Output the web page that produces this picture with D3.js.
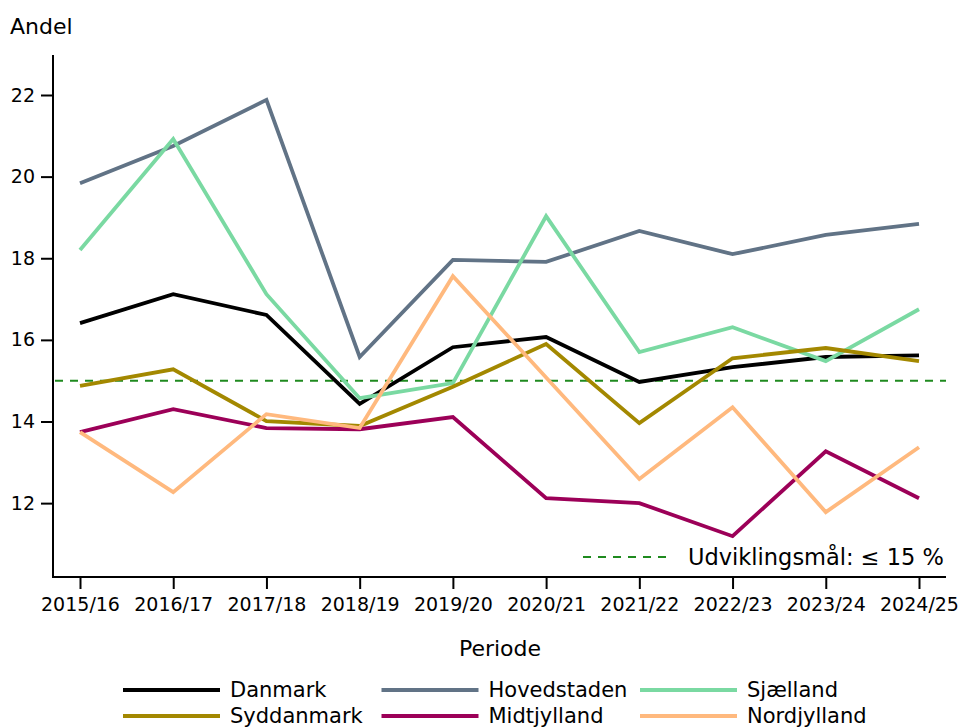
<!DOCTYPE html>
<html>
  <head>
    <meta charset="utf-8">
    <title>Andel per periode</title>
    <script src="https://d3js.org/d3.v7.min.js"></script>
    <style>
      body { margin: 0; background: #fff; }
      text { font-family: "DejaVu Sans", sans-serif; fill: #000; }
      .line { fill: none; stroke-width: 3.8px; stroke-linejoin: miter; }
    </style>
  </head>
  <body>
    <script>

      var width = 961;
      var height = 727;

      var periods = ["2015/16", "2016/17", "2017/18", "2018/19", "2019/20",
                     "2020/21", "2021/22", "2022/23", "2023/24", "2024/25"];
      var yTicks = [12, 14, 16, 18, 20, 22];
      var target = 15;

      var danmark     = [16.41, 17.12, 16.61, 14.43, 15.82, 16.07, 14.97, 15.33, 15.58, 15.62];
      var hovedstaden = [19.84, 20.75, 21.88, 15.58, 17.96, 17.91, 18.67, 18.10, 18.57, 18.84];
      var sjaelland   = [18.20, 20.92, 17.12, 14.57, 14.94, 19.03, 15.70, 16.31, 15.48, 16.75];
      var syddanmark  = [14.87, 15.28, 14.01, 13.89, 14.85, 15.90, 13.96, 15.55, 15.80, 15.48];
      var midtjylland = [13.74, 14.30, 13.84, 13.81, 14.11, 12.12, 12.00, 11.19, 13.27, 12.12];
      var nordjylland = [13.74, 12.27, 14.18, 13.84, 17.56, 15.08, 12.59, 14.35, 11.78, 13.37];

      var series = [
        { name: "Danmark",     values: danmark,     color: "#000000" },
        { name: "Hovedstaden", values: hovedstaden, color: "#617386" },
        { name: "Sjælland",    values: sjaelland,   color: "#7ad9a2" },
        { name: "Syddanmark",  values: syddanmark,  color: "#a38800" },
        { name: "Midtjylland", values: midtjylland, color: "#9c0058" },
        { name: "Nordjylland", values: nordjylland, color: "#ffb97e" }
      ];
      // legend is drawn in this order, 3 per row
      var legendOrder = ["Danmark", "Hovedstaden", "Sjælland", "Syddanmark", "Midtjylland", "Nordjylland"];

      var plot = { left: 53, right: 946, top: 55, bottom: 577 };

      var svg = d3.select("body").append("svg")
        .attr("width", width)
        .attr("height", height);

      var xScale = d3.scalePoint().domain(periods).range([80, 919]);
      var yScale = d3.scaleLinear().domain([10.19, 22.98]).range([plot.bottom, plot.top]);

      // target line
      svg.append("line")
        .attr("x1", plot.left + 2).attr("x2", plot.right)
        .attr("y1", yScale(target)).attr("y2", yScale(target))
        .attr("stroke", "#1f8a1f")
        .attr("stroke-width", 2)
        .attr("stroke-dasharray", "8,7");

      var line = d3.line()
        .x(function (d, i){ return xScale(periods[i]); })
        .y(function (d){ return yScale(d); });

      svg.selectAll("path.line").data(series).enter().append("path")
        .attr("class", "line")
        .attr("stroke", function (d){ return d.color; })
        .attr("d", function (d){ return line(d.values); });

      // axes
      var yAxis = svg.append("g")
        .attr("transform", "translate(" + plot.left + ",0)")
        .call(d3.axisLeft(yScale).tickValues(yTicks).tickSize(12).tickPadding(6));
      var xAxis = svg.append("g")
        .attr("transform", "translate(0," + plot.bottom + ")")
        .call(d3.axisBottom(xScale).tickSize(12).tickPadding(9));

      [yAxis, xAxis].forEach(function (g){
        g.select(".domain").remove();
        g.selectAll(".tick line").attr("stroke", "#000").attr("stroke-width", 2);
        g.selectAll(".tick text").attr("font-family", "DejaVu Sans").attr("font-size", 19).attr("fill", "#000");
      });

      svg.append("line")
        .attr("x1", plot.left).attr("x2", plot.left)
        .attr("y1", plot.top).attr("y2", plot.bottom + 1)
        .attr("stroke", "#000").attr("stroke-width", 2);
      svg.append("line")
        .attr("x1", plot.left - 1).attr("x2", plot.right)
        .attr("y1", plot.bottom).attr("y2", plot.bottom)
        .attr("stroke", "#000").attr("stroke-width", 2);

      svg.append("text")
        .attr("x", 10).attr("y", 34)
        .attr("font-size", 22)
        .text("Andel");

      svg.append("text")
        .attr("x", 500).attr("y", 656)
        .attr("text-anchor", "middle")
        .attr("font-size", 22)
        .text("Periode");

      // target legend inside plot
      svg.append("line")
        .attr("x1", 583).attr("x2", 673)
        .attr("y1", 557).attr("y2", 557)
        .attr("stroke", "#1f8a1f")
        .attr("stroke-width", 2)
        .attr("stroke-dasharray", "8,7");
      svg.append("text")
        .attr("x", 688).attr("y", 565)
        .attr("font-size", 22.5)
        .text("Udviklingsmål: ≤ 15 %");

      // series legend
      var legend = svg.selectAll("g.legend").data(legendOrder).enter().append("g")
        .attr("class", "legend")
        .attr("transform", function (d, i){
          return "translate(" + (123 + (i % 3) * 258.5) + "," + (690 + Math.floor(i / 3) * 26) + ")";
        });
      legend.append("line")
        .attr("x1", 0).attr("x2", 97)
        .attr("stroke-width", 4)
        .attr("stroke", function (d){ return series.find(function (s){ return s.name === d; }).color; });
      legend.append("text")
        .attr("x", 107).attr("y", 7)
        .attr("font-size", 21)
        .text(function (d){ return d; });

    </script>
  </body>
</html>
